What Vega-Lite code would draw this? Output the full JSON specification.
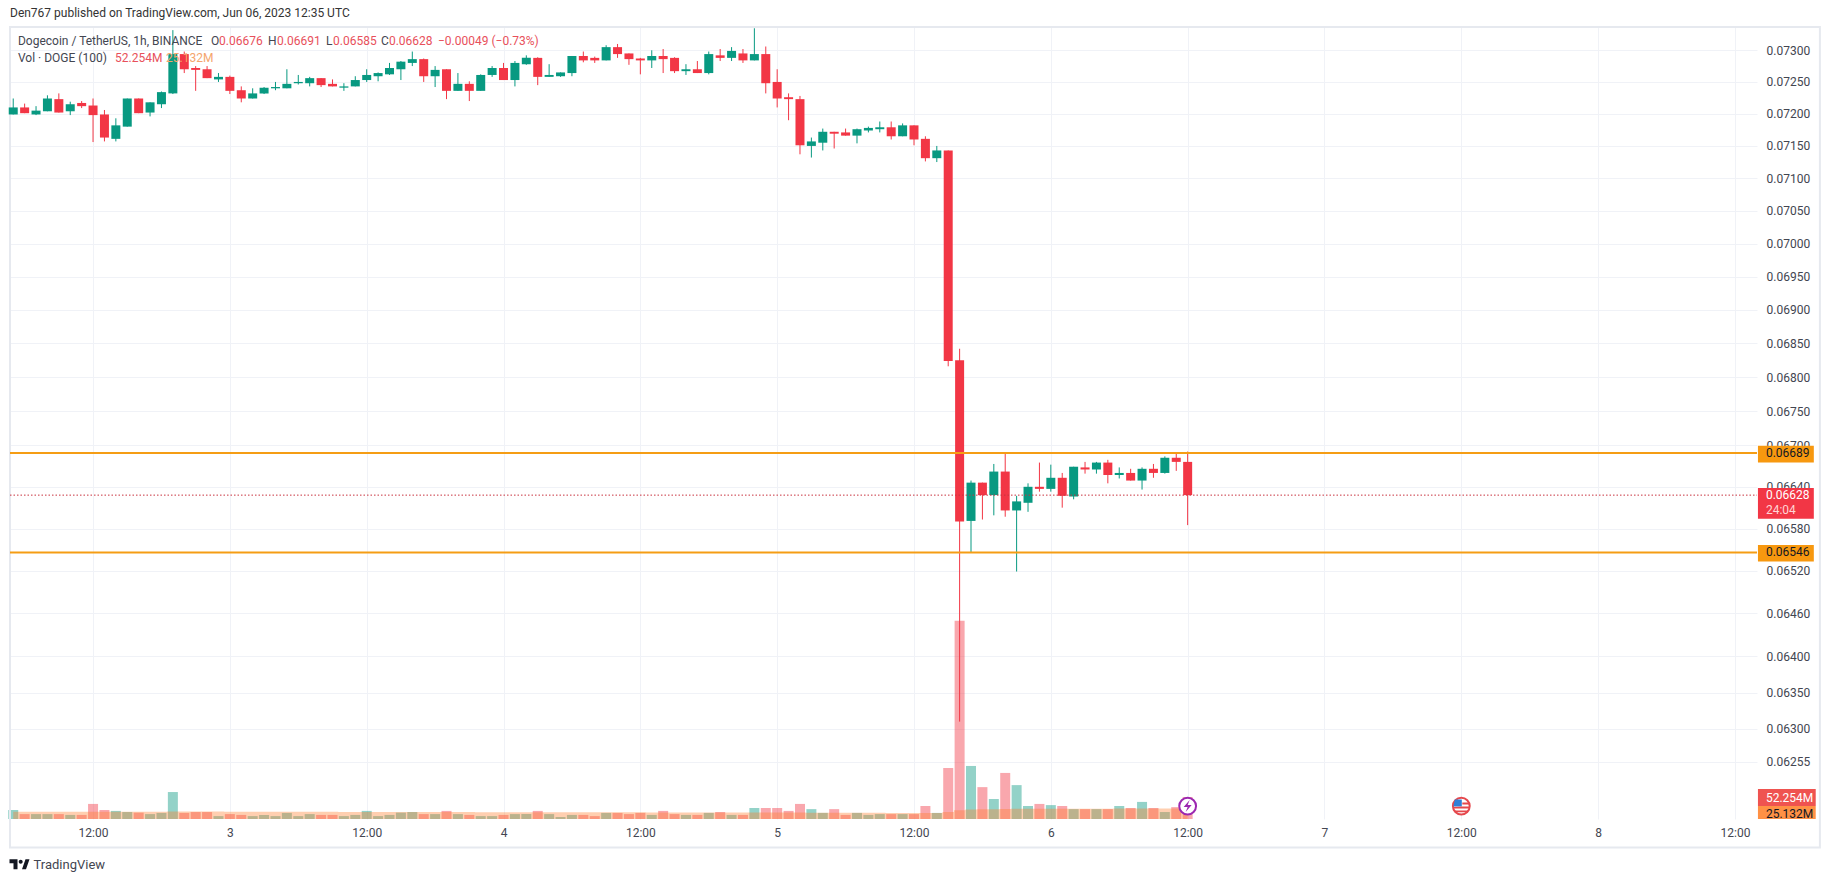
{
  "$schema": "https://vega.github.io/schema/vega-lite/v6.json",
  "width": 1747,
  "height": 792,
  "autosize": "none",
  "padding": {"left": 10, "top": 27, "right": 73, "bottom": 63},
  "background": "#ffffff",
  "config": {"view": {"stroke": null}, "font": "Roboto"},
  "title": {"text": "Den767 published on TradingView.com, Jun 06, 2023 12:35 UTC", "anchor": "start", "frame": "group", "fontSize": 12, "fontWeight": "normal", "color": "#333333", "offset": 6},
  "data": {"values": [
    {"t":"2023-06-02T05:00Z","open":0.07199,"high":0.07224,"low":0.07199,"close":0.07210,"vol":21.4,"ma":17.4},
    {"t":"2023-06-02T06:00Z","open":0.07210,"high":0.07216,"low":0.07201,"close":0.07201,"vol":11.7,"ma":17.4},
    {"t":"2023-06-02T07:00Z","open":0.07199,"high":0.07212,"low":0.07198,"close":0.07205,"vol":11.7,"ma":17.4},
    {"t":"2023-06-02T08:00Z","open":0.07204,"high":0.07229,"low":0.07204,"close":0.07224,"vol":11.7,"ma":17.4},
    {"t":"2023-06-02T09:00Z","open":0.07223,"high":0.07232,"low":0.07202,"close":0.07202,"vol":11.7,"ma":17.4},
    {"t":"2023-06-02T10:00Z","open":0.07204,"high":0.07219,"low":0.07198,"close":0.07215,"vol":9.7,"ma":17.4},
    {"t":"2023-06-02T11:00Z","open":0.07217,"high":0.07220,"low":0.07209,"close":0.07212,"vol":9.7,"ma":17.4},
    {"t":"2023-06-02T12:00Z","open":0.07213,"high":0.07224,"low":0.07156,"close":0.07198,"vol":35.9,"ma":17.5},
    {"t":"2023-06-02T13:00Z","open":0.07199,"high":0.07206,"low":0.07157,"close":0.07163,"vol":21.4,"ma":17.5},
    {"t":"2023-06-02T14:00Z","open":0.07161,"high":0.07193,"low":0.07157,"close":0.07182,"vol":19.3,"ma":17.5},
    {"t":"2023-06-02T15:00Z","open":0.07180,"high":0.07224,"low":0.07180,"close":0.07224,"vol":16.6,"ma":17.5},
    {"t":"2023-06-02T16:00Z","open":0.07224,"high":0.07224,"low":0.07201,"close":0.07201,"vol":15.2,"ma":17.5},
    {"t":"2023-06-02T17:00Z","open":0.07202,"high":0.07218,"low":0.07196,"close":0.07218,"vol":11.7,"ma":17.5},
    {"t":"2023-06-02T18:00Z","open":0.07215,"high":0.07235,"low":0.07209,"close":0.07234,"vol":14.5,"ma":17.5},
    {"t":"2023-06-02T19:00Z","open":0.07232,"high":0.07332,"low":0.07231,"close":0.07294,"vol":64.2,"ma":17.8},
    {"t":"2023-06-02T20:00Z","open":0.07294,"high":0.07298,"low":0.07264,"close":0.07270,"vol":14.5,"ma":17.8},
    {"t":"2023-06-02T21:00Z","open":0.07272,"high":0.07275,"low":0.07236,"close":0.07269,"vol":16.6,"ma":17.8},
    {"t":"2023-06-02T22:00Z","open":0.07270,"high":0.07275,"low":0.07256,"close":0.07256,"vol":16.6,"ma":17.7},
    {"t":"2023-06-02T23:00Z","open":0.07254,"high":0.07264,"low":0.07250,"close":0.07258,"vol":6.9,"ma":17.6},
    {"t":"2023-06-03T00:00Z","open":0.07258,"high":0.07260,"low":0.07231,"close":0.07236,"vol":11.7,"ma":17.5},
    {"t":"2023-06-03T01:00Z","open":0.07237,"high":0.07243,"low":0.07218,"close":0.07224,"vol":9.7,"ma":17.5},
    {"t":"2023-06-03T02:00Z","open":0.07224,"high":0.07240,"low":0.07224,"close":0.07232,"vol":6.9,"ma":17.4},
    {"t":"2023-06-03T03:00Z","open":0.07232,"high":0.07242,"low":0.07231,"close":0.07241,"vol":9.7,"ma":17.3},
    {"t":"2023-06-03T04:00Z","open":0.07240,"high":0.07250,"low":0.07237,"close":0.07242,"vol":6.9,"ma":17.3},
    {"t":"2023-06-03T05:00Z","open":0.07240,"high":0.07270,"low":0.07240,"close":0.07247,"vol":14.5,"ma":17.3},
    {"t":"2023-06-03T06:00Z","open":0.07248,"high":0.07261,"low":0.07246,"close":0.07250,"vol":6.9,"ma":17.2},
    {"t":"2023-06-03T07:00Z","open":0.07248,"high":0.07258,"low":0.07243,"close":0.07256,"vol":11.7,"ma":17.1},
    {"t":"2023-06-03T08:00Z","open":0.07256,"high":0.07256,"low":0.07242,"close":0.07245,"vol":9.7,"ma":17.0},
    {"t":"2023-06-03T09:00Z","open":0.07247,"high":0.07254,"low":0.07243,"close":0.07243,"vol":9.7,"ma":17.0},
    {"t":"2023-06-03T10:00Z","open":0.07241,"high":0.07248,"low":0.07236,"close":0.07243,"vol":6.9,"ma":16.9},
    {"t":"2023-06-03T11:00Z","open":0.07243,"high":0.07259,"low":0.07243,"close":0.07253,"vol":9.7,"ma":16.8},
    {"t":"2023-06-03T12:00Z","open":0.07253,"high":0.07270,"low":0.07250,"close":0.07261,"vol":19.3,"ma":16.8},
    {"t":"2023-06-03T13:00Z","open":0.07259,"high":0.07265,"low":0.07251,"close":0.07264,"vol":6.9,"ma":16.7},
    {"t":"2023-06-03T14:00Z","open":0.07262,"high":0.07280,"low":0.07261,"close":0.07272,"vol":9.7,"ma":16.7},
    {"t":"2023-06-03T15:00Z","open":0.07270,"high":0.07283,"low":0.07253,"close":0.07282,"vol":15.2,"ma":16.7},
    {"t":"2023-06-03T16:00Z","open":0.07280,"high":0.07298,"low":0.07275,"close":0.07286,"vol":16.6,"ma":16.6},
    {"t":"2023-06-03T17:00Z","open":0.07286,"high":0.07287,"low":0.07250,"close":0.07259,"vol":11.7,"ma":16.6},
    {"t":"2023-06-03T18:00Z","open":0.07259,"high":0.07275,"low":0.07242,"close":0.07269,"vol":11.7,"ma":16.5},
    {"t":"2023-06-03T19:00Z","open":0.07270,"high":0.07270,"low":0.07223,"close":0.07236,"vol":19.3,"ma":16.5},
    {"t":"2023-06-03T20:00Z","open":0.07236,"high":0.07264,"low":0.07236,"close":0.07247,"vol":11.7,"ma":16.5},
    {"t":"2023-06-03T21:00Z","open":0.07247,"high":0.07251,"low":0.07220,"close":0.07236,"vol":9.7,"ma":16.4},
    {"t":"2023-06-03T22:00Z","open":0.07236,"high":0.07262,"low":0.07236,"close":0.07261,"vol":6.9,"ma":16.3},
    {"t":"2023-06-03T23:00Z","open":0.07261,"high":0.07275,"low":0.07258,"close":0.07272,"vol":6.9,"ma":16.3},
    {"t":"2023-06-04T00:00Z","open":0.07272,"high":0.07280,"low":0.07253,"close":0.07253,"vol":9.7,"ma":16.2},
    {"t":"2023-06-04T01:00Z","open":0.07253,"high":0.07283,"low":0.07243,"close":0.07280,"vol":11.7,"ma":16.2},
    {"t":"2023-06-04T02:00Z","open":0.07278,"high":0.07292,"low":0.07277,"close":0.07288,"vol":11.7,"ma":16.2},
    {"t":"2023-06-04T03:00Z","open":0.07288,"high":0.07289,"low":0.07245,"close":0.07258,"vol":19.3,"ma":16.2},
    {"t":"2023-06-04T04:00Z","open":0.07258,"high":0.07278,"low":0.07258,"close":0.07261,"vol":11.7,"ma":16.1},
    {"t":"2023-06-04T05:00Z","open":0.07259,"high":0.07265,"low":0.07258,"close":0.07265,"vol":4.8,"ma":16.0},
    {"t":"2023-06-04T06:00Z","open":0.07264,"high":0.07291,"low":0.07259,"close":0.07291,"vol":9.7,"ma":16.0},
    {"t":"2023-06-04T07:00Z","open":0.07291,"high":0.07298,"low":0.07281,"close":0.07284,"vol":9.7,"ma":15.9},
    {"t":"2023-06-04T08:00Z","open":0.07288,"high":0.07290,"low":0.07280,"close":0.07284,"vol":6.9,"ma":15.9},
    {"t":"2023-06-04T09:00Z","open":0.07284,"high":0.07308,"low":0.07284,"close":0.07305,"vol":14.5,"ma":15.9},
    {"t":"2023-06-04T10:00Z","open":0.07305,"high":0.07310,"low":0.07288,"close":0.07294,"vol":14.5,"ma":15.8},
    {"t":"2023-06-04T11:00Z","open":0.07295,"high":0.07295,"low":0.07277,"close":0.07286,"vol":11.7,"ma":15.8},
    {"t":"2023-06-04T12:00Z","open":0.07287,"high":0.07288,"low":0.07262,"close":0.07284,"vol":14.5,"ma":15.8},
    {"t":"2023-06-04T13:00Z","open":0.07284,"high":0.07300,"low":0.07272,"close":0.07291,"vol":9.7,"ma":15.7},
    {"t":"2023-06-04T14:00Z","open":0.07291,"high":0.07302,"low":0.07264,"close":0.07286,"vol":19.3,"ma":15.7},
    {"t":"2023-06-04T15:00Z","open":0.07288,"high":0.07289,"low":0.07264,"close":0.07267,"vol":11.7,"ma":15.6},
    {"t":"2023-06-04T16:00Z","open":0.07267,"high":0.07278,"low":0.07261,"close":0.07270,"vol":9.7,"ma":15.5},
    {"t":"2023-06-04T17:00Z","open":0.07270,"high":0.07283,"low":0.07264,"close":0.07264,"vol":9.7,"ma":15.5},
    {"t":"2023-06-04T18:00Z","open":0.07264,"high":0.07298,"low":0.07262,"close":0.07294,"vol":14.5,"ma":15.4},
    {"t":"2023-06-04T19:00Z","open":0.07292,"high":0.07302,"low":0.07283,"close":0.07288,"vol":16.6,"ma":15.4},
    {"t":"2023-06-04T20:00Z","open":0.07288,"high":0.07305,"low":0.07283,"close":0.07299,"vol":9.7,"ma":15.3},
    {"t":"2023-06-04T21:00Z","open":0.07295,"high":0.07302,"low":0.07280,"close":0.07284,"vol":9.7,"ma":15.3},
    {"t":"2023-06-04T22:00Z","open":0.07284,"high":0.07335,"low":0.07284,"close":0.07294,"vol":26.2,"ma":15.3},
    {"t":"2023-06-04T23:00Z","open":0.07294,"high":0.07306,"low":0.07232,"close":0.07248,"vol":26.2,"ma":15.3},
    {"t":"2023-06-05T00:00Z","open":0.07250,"high":0.07270,"low":0.07210,"close":0.07224,"vol":26.2,"ma":15.2},
    {"t":"2023-06-05T01:00Z","open":0.07226,"high":0.07232,"low":0.07190,"close":0.07223,"vol":19.3,"ma":15.2},
    {"t":"2023-06-05T02:00Z","open":0.07223,"high":0.07228,"low":0.07137,"close":0.07151,"vol":35.9,"ma":15.2},
    {"t":"2023-06-05T03:00Z","open":0.07150,"high":0.07163,"low":0.07132,"close":0.07157,"vol":23.5,"ma":15.1},
    {"t":"2023-06-05T04:00Z","open":0.07155,"high":0.07177,"low":0.07143,"close":0.07172,"vol":14.5,"ma":15.0},
    {"t":"2023-06-05T05:00Z","open":0.07172,"high":0.07172,"low":0.07146,"close":0.07169,"vol":23.5,"ma":15.0},
    {"t":"2023-06-05T06:00Z","open":0.07171,"high":0.07177,"low":0.07166,"close":0.07166,"vol":9.7,"ma":14.9},
    {"t":"2023-06-05T07:00Z","open":0.07166,"high":0.07177,"low":0.07154,"close":0.07176,"vol":14.5,"ma":14.8},
    {"t":"2023-06-05T08:00Z","open":0.07174,"high":0.07180,"low":0.07171,"close":0.07178,"vol":9.7,"ma":14.7},
    {"t":"2023-06-05T09:00Z","open":0.07176,"high":0.07188,"low":0.07171,"close":0.07179,"vol":11.7,"ma":14.6},
    {"t":"2023-06-05T10:00Z","open":0.07179,"high":0.07188,"low":0.07160,"close":0.07165,"vol":11.7,"ma":14.5},
    {"t":"2023-06-05T11:00Z","open":0.07165,"high":0.07185,"low":0.07165,"close":0.07182,"vol":11.7,"ma":14.4},
    {"t":"2023-06-05T12:00Z","open":0.07182,"high":0.07182,"low":0.07151,"close":0.07160,"vol":11.7,"ma":14.3},
    {"t":"2023-06-05T13:00Z","open":0.07161,"high":0.07165,"low":0.07126,"close":0.07131,"vol":31,"ma":14.3},
    {"t":"2023-06-05T14:00Z","open":0.07131,"high":0.07150,"low":0.07125,"close":0.07143,"vol":14.5,"ma":14.3},
    {"t":"2023-06-05T15:00Z","open":0.07143,"high":0.07143,"low":0.06816,"close":0.06824,"vol":121.4,"ma":16.5},
    {"t":"2023-06-05T16:00Z","open":0.06825,"high":0.06842,"low":0.06310,"close":0.06590,"vol":472,"ma":21.0},
    {"t":"2023-06-05T17:00Z","open":0.06591,"high":0.06649,"low":0.06546,"close":0.06646,"vol":126.3,"ma":22.5},
    {"t":"2023-06-05T18:00Z","open":0.06646,"high":0.06646,"low":0.06593,"close":0.06628,"vol":75.9,"ma":23.0},
    {"t":"2023-06-05T19:00Z","open":0.06628,"high":0.06673,"low":0.06599,"close":0.06662,"vol":47.6,"ma":23.4},
    {"t":"2023-06-05T20:00Z","open":0.06662,"high":0.06688,"low":0.06597,"close":0.06606,"vol":109.7,"ma":24.0},
    {"t":"2023-06-05T21:00Z","open":0.06606,"high":0.06627,"low":0.06519,"close":0.06619,"vol":80.7,"ma":24.2},
    {"t":"2023-06-05T22:00Z","open":0.06617,"high":0.06645,"low":0.06604,"close":0.06640,"vol":31,"ma":24.3},
    {"t":"2023-06-05T23:00Z","open":0.06640,"high":0.06675,"low":0.06633,"close":0.06637,"vol":35.9,"ma":24.4},
    {"t":"2023-06-06T00:00Z","open":0.06637,"high":0.06672,"low":0.06633,"close":0.06653,"vol":33.1,"ma":24.5},
    {"t":"2023-06-06T01:00Z","open":0.06653,"high":0.06660,"low":0.06610,"close":0.06627,"vol":31,"ma":24.5},
    {"t":"2023-06-06T02:00Z","open":0.06626,"high":0.06669,"low":0.06622,"close":0.06669,"vol":23.5,"ma":24.6},
    {"t":"2023-06-06T03:00Z","open":0.06668,"high":0.06676,"low":0.06659,"close":0.06665,"vol":23.5,"ma":24.6},
    {"t":"2023-06-06T04:00Z","open":0.06665,"high":0.06676,"low":0.06659,"close":0.06675,"vol":23.5,"ma":24.7},
    {"t":"2023-06-06T05:00Z","open":0.06675,"high":0.06679,"low":0.06645,"close":0.06657,"vol":23.5,"ma":24.7},
    {"t":"2023-06-06T06:00Z","open":0.06657,"high":0.06668,"low":0.06652,"close":0.06660,"vol":31,"ma":24.8},
    {"t":"2023-06-06T07:00Z","open":0.06660,"high":0.06666,"low":0.06649,"close":0.06649,"vol":26.2,"ma":24.8},
    {"t":"2023-06-06T08:00Z","open":0.06649,"high":0.06668,"low":0.06636,"close":0.06666,"vol":40.7,"ma":24.9},
    {"t":"2023-06-06T09:00Z","open":0.06666,"high":0.06673,"low":0.06653,"close":0.06660,"vol":26.2,"ma":24.9},
    {"t":"2023-06-06T10:00Z","open":0.06660,"high":0.06684,"low":0.06659,"close":0.06682,"vol":16.6,"ma":25.0},
    {"t":"2023-06-06T11:00Z","open":0.06682,"high":0.06688,"low":0.06663,"close":0.06676,"vol":28.3,"ma":25.1},
    {"t":"2023-06-06T12:00Z","open":0.06676,"high":0.06691,"low":0.06585,"close":0.06628,"vol":52.254,"ma":25.132}
  ]},
  "encoding": {
    "x": {
      "field": "t",
      "type": "temporal",
      "scale": {"type": "utc", "domain": [1685680980000, 1686232560000], "nice": false, "padding": 0},
      "axis": {
        "values": [1685707200000, 1685750400000, 1685793600000, 1685836800000, 1685880000000, 1685923200000, 1685966400000, 1686009600000, 1686052800000, 1686096000000, 1686139200000, 1686182400000, 1686225600000],
        "labelExpr": "utchours(datum.value) == 12 ? '12:00' : utcdate(datum.value)",
        "grid": true,
        "gridColor": "#f0f2f7",
        "domain": false,
        "ticks": false,
        "labelFontSize": 12,
        "labelColor": "#434651",
        "labelPadding": 8,
        "labelFlush": false,
        "labelOverlap": false,
        "title": "TradingView",
        "titleFontSize": 13,
        "titleFontWeight": "normal",
        "titleColor": "#434651",
        "titleAnchor": "start",
        "titleAlign": "left",
        "titleBaseline": "middle",
        "titleX": 23,
        "titleY": 45
      }
    }
  },
  "layer": [
    {
      "mark": {"type": "bar", "size": 10},
      "encoding": {
        "y": {"field": "vol", "type": "quantitative", "stack": null, "axis": null, "scale": {"domain": [0, 1886], "nice": false}},
        "color": {"condition": {"test": "datum.close >= datum.open", "value": "#089981"}, "value": "#f23645"},
        "opacity": {"value": 0.44}
      }
    },
    {
      "mark": {"type": "area", "interpolate": "step", "color": "#ff7c28", "opacity": 0.37},
      "encoding": {
        "y": {"field": "ma", "type": "quantitative", "stack": null, "axis": null, "scale": {"domain": [0, 1886], "nice": false}}
      }
    },
    {
      "data": {"values": [{"t": "2023-06-02T04:43Z", "t2": "2023-06-08T19:27Z", "price": 0.07337, "price2": 0.0614}]},
      "mark": {"type": "rect", "filled": false, "color": "#e6e9ef", "strokeWidth": 2},
      "encoding": {
        "x2": {"field": "t2"},
        "y": {"field": "price", "type": "quantitative", "axis": null, "scale": {"type": "log", "domain": [0.06178, 0.07337], "nice": false, "zero": false}},
        "y2": {"field": "price2"}
      }
    },
    {
      "mark": {"type": "rule", "strokeWidth": 1},
      "encoding": {
        "y": {
          "field": "low",
          "type": "quantitative",
          "scale": {"type": "log", "domain": [0.06178, 0.07337], "nice": false, "zero": false},
          "axis": {
            "orient": "right",
            "values": [0.073, 0.0725, 0.072, 0.0715, 0.071, 0.0705, 0.07, 0.0695, 0.069, 0.0685, 0.068, 0.0675, 0.067, 0.0664, 0.0658, 0.0652, 0.0646, 0.064, 0.0635, 0.063, 0.06255],
            "format": ".5f",
            "grid": true,
            "gridColor": "#f0f2f7",
            "domain": false,
            "ticks": false,
            "labelFontSize": 12,
            "labelColor": "#434651",
            "labelPadding": 9,
            "labelFlush": false,
            "labelOverlap": false,
            "title": null
          }
        },
        "y2": {"field": "high"},
        "color": {"condition": {"test": "datum.close >= datum.open", "value": "#089981"}, "value": "#f23645"}
      }
    },
    {
      "mark": {"type": "bar", "size": 9},
      "encoding": {
        "y": {"field": "open", "type": "quantitative", "axis": null, "scale": {"type": "log", "domain": [0.06178, 0.07337], "nice": false, "zero": false}},
        "y2": {"field": "close"},
        "color": {"condition": {"test": "datum.close >= datum.open", "value": "#089981"}, "value": "#f23645"}
      }
    },
    {
      "data": {"values": [
        {"t": "2023-06-02T04:43Z", "t2": "2023-06-08T13:56Z", "price": 0.06689},
        {"t": "2023-06-02T04:43Z", "t2": "2023-06-08T13:56Z", "price": 0.06546}
      ]},
      "mark": {"type": "rule", "strokeWidth": 2, "color": "#f59d14"},
      "encoding": {
        "x2": {"field": "t2"},
        "y": {"field": "price", "type": "quantitative", "axis": null, "scale": {"type": "log", "domain": [0.06178, 0.07337], "nice": false, "zero": false}}
      }
    },
    {
      "data": {"values": [{"t": "2023-06-02T04:43Z", "t2": "2023-06-08T13:56Z", "price": 0.06628}]},
      "mark": {"type": "rule", "strokeWidth": 1, "strokeDash": [1.5, 2], "color": "#c8323f"},
      "encoding": {
        "x2": {"field": "t2"},
        "y": {"field": "price", "type": "quantitative", "axis": null, "scale": {"type": "log", "domain": [0.06178, 0.07337], "nice": false, "zero": false}}
      }
    },
    {
      "data": {"values": [
        {"kind": "level", "t": "2023-06-08T14:01Z", "t2": "2023-06-08T18:55Z", "price": 0.066996, "price2": 0.066753},
        {"kind": "level", "t": "2023-06-08T14:01Z", "t2": "2023-06-08T18:55Z", "price": 0.065566, "price2": 0.065332},
        {"kind": "last", "t": "2023-06-08T14:01Z", "t2": "2023-06-08T18:55Z", "price": 0.066383, "price2": 0.065942},
        {"kind": "volume", "t": "2023-06-08T14:01Z", "t2": "2023-06-08T19:05Z", "price": 0.062182, "price2": 0.061953},
        {"kind": "ma", "t": "2023-06-08T14:01Z", "t2": "2023-06-08T19:05Z", "price": 0.061953, "price2": 0.06178}
      ]},
      "mark": {"type": "rect"},
      "encoding": {
        "x2": {"field": "t2"},
        "y": {"field": "price", "type": "quantitative", "axis": null, "scale": {"type": "log", "domain": [0.06178, 0.07337], "nice": false, "zero": false}},
        "y2": {"field": "price2"},
        "color": {"field": "kind", "type": "nominal", "legend": null, "scale": {"domain": ["level", "last", "volume", "ma"], "range": ["#f7980f", "#f23645", "#ef5350", "#ff9145"]}}
      }
    },
    {
      "data": {"values": [
        {"label": "Dogecoin / TetherUS, 1h, BINANCE", "kind": "ink", "t": "2023-06-02T05:25Z", "price": 0.073146},
        {"label": "O", "kind": "ink", "t": "2023-06-02T22:21Z", "price": 0.073146},
        {"label": "0.06676", "kind": "down", "t": "2023-06-02T23:03Z", "price": 0.073146},
        {"label": "H", "kind": "ink", "t": "2023-06-03T03:21Z", "price": 0.073146},
        {"label": "0.06691", "kind": "down", "t": "2023-06-03T04:08Z", "price": 0.073146},
        {"label": "L", "kind": "ink", "t": "2023-06-03T08:26Z", "price": 0.073146},
        {"label": "0.06585", "kind": "down", "t": "2023-06-03T09:03Z", "price": 0.073146},
        {"label": "C", "kind": "ink", "t": "2023-06-03T13:15Z", "price": 0.073146},
        {"label": "0.06628", "kind": "down", "t": "2023-06-03T13:57Z", "price": 0.073146},
        {"label": "−0.00049 (−0.73%)", "kind": "down", "t": "2023-06-03T18:15Z", "price": 0.073146},
        {"label": "Vol · DOGE (100)", "kind": "ink", "t": "2023-06-02T05:25Z", "price": 0.072877},
        {"label": "52.254M", "kind": "down", "t": "2023-06-02T13:56Z", "price": 0.072877},
        {"label": "25.132M", "kind": "ma", "t": "2023-06-02T18:24Z", "price": 0.072877},
        {"label": "0.06689", "kind": "dark", "t": "2023-06-08T14:43Z", "price": 0.06689},
        {"label": "0.06546", "kind": "dark", "t": "2023-06-08T14:43Z", "price": 0.06546},
        {"label": "0.06628", "kind": "light", "t": "2023-06-08T14:43Z", "price": 0.066282},
        {"label": "24:04", "kind": "pale", "t": "2023-06-08T14:43Z", "price": 0.06606},
        {"label": "52.254M", "kind": "light", "t": "2023-06-08T14:43Z", "price": 0.062065},
        {"label": "25.132M", "kind": "dark", "t": "2023-06-08T14:43Z", "price": 0.061846}
      ]},
      "mark": {"type": "text", "align": "left", "baseline": "middle", "fontSize": 12},
      "encoding": {
        "y": {"field": "price", "type": "quantitative", "axis": null, "scale": {"type": "log", "domain": [0.06178, 0.07337], "nice": false, "zero": false}},
        "text": {"field": "label"},
        "fontWeight": {"condition": {"test": "datum.kind == 'light'", "value": "bold"}, "value": "normal"},
        "color": {"field": "kind", "type": "nominal", "legend": null, "scale": {"domain": ["ink", "down", "ma", "dark", "light", "pale"], "range": ["#434651", "#e8505b", "#f5a56d", "#131722", "#ffffff", "#ffd4d4"]}}
      }
    },
    {
      "data": {"values": [
        {"t": "2023-06-06T12:00Z", "price": 0.061953, "event": "earnings"},
        {"t": "2023-06-07T12:00Z", "price": 0.061953, "event": "economic"}
      ]},
      "mark": {"type": "point", "shape": "circle", "size": 283, "filled": false, "fill": "#ffffff", "fillOpacity": 1, "strokeWidth": 2, "opacity": 1},
      "encoding": {
        "y": {"field": "price", "type": "quantitative", "axis": null, "scale": {"type": "log", "domain": [0.06178, 0.07337], "nice": false, "zero": false}},
        "stroke": {"field": "event", "type": "nominal", "legend": null, "scale": {"domain": ["earnings", "economic"], "range": ["#9c27b0", "#e5484d"]}}
      }
    },
    {
      "data": {"values": [{"t": "2023-06-06T12:00Z", "price": 0.061953}]},
      "mark": {"type": "point", "shape": "M.2 -.6L-.4 .1H0L-.2 .6L.4 -.1H0Z", "size": 400, "filled": true, "color": "#9c27b0", "opacity": 1},
      "encoding": {
        "y": {"field": "price", "type": "quantitative", "axis": null, "scale": {"type": "log", "domain": [0.06178, 0.07337], "nice": false, "zero": false}}
      }
    },
    {
      "data": {"values": [{"t": "2023-06-07T12:00Z", "price": 0.061953}]},
      "mark": {"type": "point", "shape": "M-.65 -.65H.05V.05H-.8Z", "size": 400, "filled": true, "color": "#2f80d8", "opacity": 1},
      "encoding": {
        "y": {"field": "price", "type": "quantitative", "axis": null, "scale": {"type": "log", "domain": [0.06178, 0.07337], "nice": false, "zero": false}}
      }
    },
    {
      "data": {"values": [{"t": "2023-06-07T12:00Z", "price": 0.061953}]},
      "mark": {"type": "point", "shape": "M.1 -.35H.75V-.15H.1ZM.1 .05H.85V.25H-.85V.08ZM-.65 .45H.65V.62H-.55Z", "size": 400, "filled": true, "color": "#e5484d", "opacity": 1},
      "encoding": {
        "y": {"field": "price", "type": "quantitative", "axis": null, "scale": {"type": "log", "domain": [0.06178, 0.07337], "nice": false, "zero": false}}
      }
    },
    {
      "data": {"values": [{"t": "2023-06-02T05:33Z", "price": 0.061177}]},
      "mark": {"type": "point", "shape": "M-1 -.5H-.2V.5H-.6V-.1H-1ZM-.08 -.25A.2 .2 0 1 1 .32 -.25A.2 .2 0 1 1 -.08 -.25ZM.25 .5L.6 -.5H1L.65 .5Z", "size": 400, "filled": true, "color": "#131722", "opacity": 1},
      "encoding": {
        "y": {"field": "price", "type": "quantitative", "axis": null, "scale": {"type": "log", "domain": [0.06178, 0.07337], "nice": false, "zero": false}}
      }
    }
  ],
  "resolve": {"scale": {"y": "independent", "color": "independent", "stroke": "independent"}}
}
